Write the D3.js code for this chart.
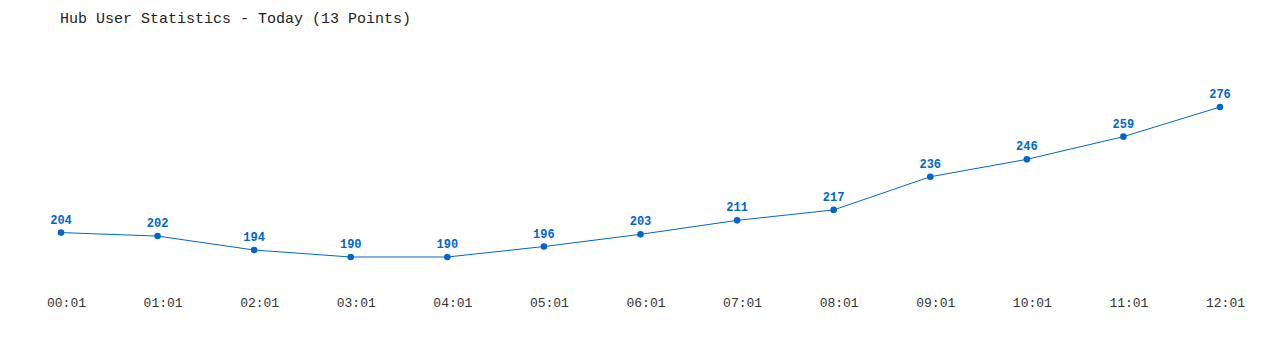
<!DOCTYPE html>
<html>
<head>
<meta charset="utf-8">
<script src="https://cdn.jsdelivr.net/npm/d3@7"></script>
<style>
  body { margin: 0; background: #fff; }
  text { font-family: "Liberation Mono", "DejaVu Sans Mono", monospace; }
</style>
</head>
<body>
<div id="chart"></div>
<script>
// hour labels on the x axis
var times = ["00:01", "01:01", "02:01", "03:01", "04:01", "05:01", "06:01",
             "07:01", "08:01", "09:01", "10:01", "11:01", "12:01"];
// users per point
var users = [204, 202, 194, 190, 190, 196, 203, 211, 217, 236, 246, 259, 276];

var width = 1280, height = 350;
var color = "#0066cc";

var svg = d3.select("#chart").append("svg")
  .attr("width", width)
  .attr("height", height);

// title
svg.append("text")
  .attr("x", 60)
  .attr("y", 23)
  .style("font-size", "15px")
  .attr("fill", "#222")
  .text("Hub User Statistics - Today (13 Points)");

var x = d3.scalePoint().domain(times).range([61, 1220]);
var y = d3.scaleLinear().domain([190, 276]).range([257, 107]);

// x axis labels only, no lines (labels sit a little right of the points)
var xAxis = svg.append("g")
  .attr("transform", "translate(5,296)")
  .call(d3.axisBottom(x).tickSize(0).tickPadding(0));
xAxis.select(".domain").remove();
xAxis.selectAll("text")
  .style("font-family", "'Liberation Mono', 'DejaVu Sans Mono', monospace")
  .style("font-size", "13px")
  .attr("fill", "#333")
  .attr("dy", "0.85em");

var line = d3.line()
  .x(function(d, i) { return x(times[i]); })
  .y(function(d) { return y(d); });

svg.append("path")
  .datum(users)
  .attr("d", line)
  .attr("fill", "none")
  .attr("stroke", color)
  .attr("stroke-width", 1);

svg.selectAll(".dot")
  .data(users)
  .enter().append("circle")
  .attr("class", "dot")
  .attr("cx", function(d, i) { return x(times[i]); })
  .attr("cy", function(d) { return y(d); })
  .attr("r", 3.3)
  .attr("fill", color);

svg.selectAll(".val")
  .data(users)
  .enter().append("text")
  .attr("class", "val")
  .attr("x", function(d, i) { return x(times[i]); })
  .attr("y", function(d) { return y(d) - 9; })
  .attr("text-anchor", "middle")
  .style("font-size", "12px")
  .style("font-weight", "bold")
  .attr("fill", color)
  .text(function(d) { return d; });
</script>
</body>
</html>
